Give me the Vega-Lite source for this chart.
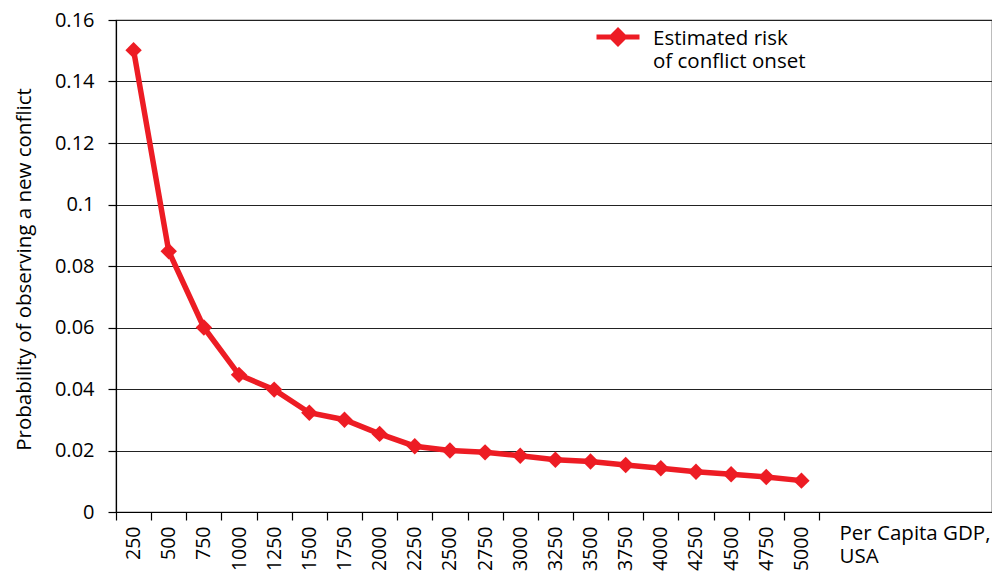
{
  "$schema": "https://vega.github.io/schema/vega-lite/v6.json",
  "width": 876,
  "height": 492,
  "autosize": {"type": "none"},
  "padding": {"left": 116, "top": 20, "right": 0, "bottom": 62},
  "background": "white",
  "config": {"view": {"stroke": "#222222", "strokeWidth": 1.2}, "font": "Open Sans"},
  "data": {
    "values": [
      {"gdp": 250, "risk": 0.1502, "series": "Estimated risk of conflict onset"},
      {"gdp": 500, "risk": 0.0848, "series": "Estimated risk of conflict onset"},
      {"gdp": 750, "risk": 0.0600, "series": "Estimated risk of conflict onset"},
      {"gdp": 1000, "risk": 0.0446, "series": "Estimated risk of conflict onset"},
      {"gdp": 1250, "risk": 0.0398, "series": "Estimated risk of conflict onset"},
      {"gdp": 1500, "risk": 0.0323, "series": "Estimated risk of conflict onset"},
      {"gdp": 1750, "risk": 0.0300, "series": "Estimated risk of conflict onset"},
      {"gdp": 2000, "risk": 0.0254, "series": "Estimated risk of conflict onset"},
      {"gdp": 2250, "risk": 0.0214, "series": "Estimated risk of conflict onset"},
      {"gdp": 2500, "risk": 0.0200, "series": "Estimated risk of conflict onset"},
      {"gdp": 2750, "risk": 0.0194, "series": "Estimated risk of conflict onset"},
      {"gdp": 3000, "risk": 0.0183, "series": "Estimated risk of conflict onset"},
      {"gdp": 3250, "risk": 0.0170, "series": "Estimated risk of conflict onset"},
      {"gdp": 3500, "risk": 0.0164, "series": "Estimated risk of conflict onset"},
      {"gdp": 3750, "risk": 0.0153, "series": "Estimated risk of conflict onset"},
      {"gdp": 4000, "risk": 0.0142, "series": "Estimated risk of conflict onset"},
      {"gdp": 4250, "risk": 0.0131, "series": "Estimated risk of conflict onset"},
      {"gdp": 4500, "risk": 0.0123, "series": "Estimated risk of conflict onset"},
      {"gdp": 4750, "risk": 0.0114, "series": "Estimated risk of conflict onset"},
      {"gdp": 5000, "risk": 0.0102, "series": "Estimated risk of conflict onset"}
    ]
  },
  "encoding": {
    "x": {
      "field": "gdp",
      "type": "quantitative",
      "scale": {"domain": [125, 6355.4], "nice": false, "zero": false},
      "axis": {
        "title": ["Per Capita GDP,", "USA"],
        "values": [125, 375, 625, 875, 1125, 1375, 1625, 1875, 2125, 2375, 2625, 2875, 3125, 3375, 3625, 3875, 4125, 4375, 4625, 4875, 5125],
        "labelExpr": "datum.value > 5000 ? '' : format(datum.value + 125, 'd')",
        "labelOffset": 17.58,
        "labelFlush": false,
        "labelOverlap": false,
        "labelAngle": 270,
        "labelFontSize": 19.5,
        "labelColor": "black",
        "labelPadding": 6,
        "tickSize": 8,
        "tickColor": "black",
        "tickWidth": 1.2,
        "domainColor": "black",
        "domainWidth": 1.2,
        "grid": false,
        "titleAngle": 0,
        "titleAlign": "left",
        "titleBaseline": "top",
        "titleX": 723,
        "titleY": 11,
        "titleFontSize": 20.5,
        "titleFontWeight": "normal",
        "titleColor": "black",
        "titleLineHeight": 23
      }
    },
    "y": {
      "field": "risk",
      "type": "quantitative",
      "scale": {"domain": [0, 0.16], "nice": false},
      "axis": {
        "values": [0, 0.02, 0.04, 0.06, 0.08, 0.1, 0.12, 0.14, 0.16],
        "format": ".2~f",
        "grid": true,
        "gridColor": "#222222",
        "gridWidth": 1.2,
        "gridOpacity": 1,
        "tickSize": 8,
        "tickColor": "black",
        "tickWidth": 1.2,
        "domainColor": "black",
        "domainWidth": 1.2,
        "labelFontSize": 20,
        "labelColor": "black",
        "labelPadding": 14,
        "title": "Probability of observing a new conflict",
        "titleFontSize": 20.5,
        "titleFontWeight": "normal",
        "titleColor": "black",
        "titlePadding": 20,
        "titleY": 249
      }
    }
  },
  "layer": [
    {
      "mark": {"type": "line", "strokeWidth": 5.5},
      "encoding": {
        "color": {
          "field": "series",
          "type": "nominal",
          "scale": {"range": ["#ED1C24"]},
          "legend": {
            "orient": "none",
            "legendX": 478,
            "legendY": -7,
            "title": null,
            "padding": 0,
            "labelExpr": "['Estimated risk', 'of conflict onset']",
            "labelFontSize": 20.5,
            "labelColor": "black",
            "labelLimit": 0,
            "labelOffset": 11,
            "labelBaseline": "alphabetic",
            "symbolType": "M-1,0L1,0M0,-0.3L0.3,0L0,0.3L-0.3,0ZM0,-0.1L0.1,0L0,0.1L-0.1,0Z",
            "symbolSize": 1849,
            "symbolStrokeWidth": 5,
            "symbolStrokeColor": "#ED1C24",
            "symbolFillColor": "#ED1C24",
            "encode": {
              "symbols": {"update": {"stroke": {"value": "#ED1C24"}, "strokeWidth": {"value": 5}, "fill": {"value": "#ED1C24"}, "opacity": {"value": 1}, "strokeOpacity": {"value": 1}}},
              "labels": {"update": {"lineHeight": {"value": 22.5}, "dy": {"value": 8}}}
            }
          }
        }
      }
    },
    {
      "mark": {"type": "point", "shape": "diamond", "filled": true, "size": 270, "opacity": 1, "color": "#ED1C24"}
    }
  ]
}
